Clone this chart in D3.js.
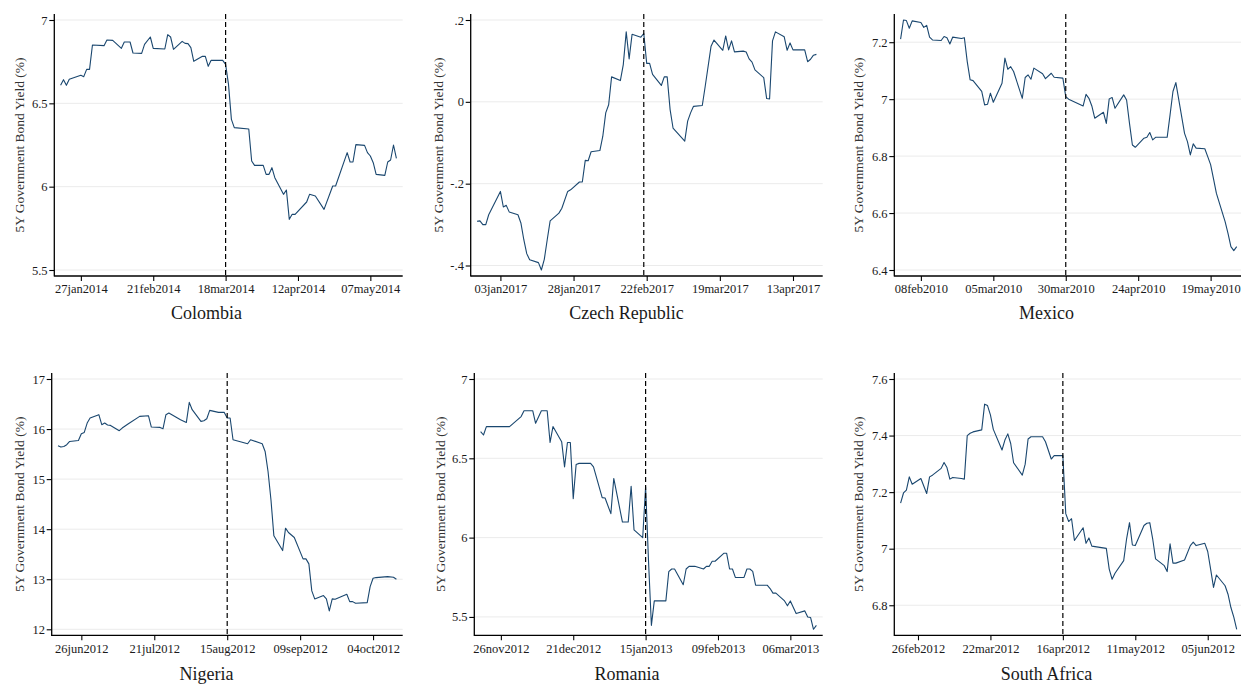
<!DOCTYPE html>
<html><head><meta charset="utf-8">
<script src="https://cdn.jsdelivr.net/npm/d3@7"></script>
<style>
body{margin:0;background:#fff}
svg{display:block}
svg text{font-family:"Liberation Serif","Times New Roman",serif !important;fill:#1a1a1a}
</style>
</head><body>
<svg id="chart" width="1241" height="685"></svg>
<script>
// ---------- DATA ----------
const yLabel = "5Y Government Bond Yield (%)";

const colombiaDates = ["2014-01-20","2014-01-21","2014-01-22","2014-01-23","2014-01-27","2014-01-28","2014-01-29","2014-01-30","2014-01-31","2014-02-04","2014-02-05","2014-02-07","2014-02-10","2014-02-11","2014-02-13","2014-02-14","2014-02-17","2014-02-18","2014-02-20","2014-02-21","2014-02-25","2014-02-26","2014-02-27","2014-02-28","2014-03-03","2014-03-04","2014-03-05","2014-03-06","2014-03-07","2014-03-10","2014-03-11","2014-03-12","2014-03-13","2014-03-17","2014-03-18","2014-03-19","2014-03-20","2014-03-21","2014-03-26","2014-03-27","2014-03-28","2014-03-31","2014-04-01","2014-04-02","2014-04-03","2014-04-04","2014-04-07","2014-04-08","2014-04-09","2014-04-10","2014-04-11","2014-04-15","2014-04-16","2014-04-18","2014-04-21","2014-04-24","2014-04-25","2014-04-29","2014-04-30","2014-05-01","2014-05-02","2014-05-05","2014-05-06","2014-05-07","2014-05-08","2014-05-09","2014-05-12","2014-05-13","2014-05-14","2014-05-15","2014-05-16"];
const colombiaValues = [6.608,6.642,6.608,6.644,6.668,6.66,6.704,6.704,6.85,6.846,6.88,6.878,6.83,6.868,6.868,6.802,6.80,6.854,6.898,6.83,6.826,6.912,6.898,6.824,6.872,6.86,6.858,6.834,6.752,6.782,6.782,6.722,6.758,6.758,6.734,6.614,6.404,6.354,6.346,6.154,6.128,6.128,6.074,6.074,6.114,6.054,5.954,5.98,5.804,5.834,5.834,5.908,5.954,5.944,5.864,6.004,6.004,6.204,6.148,6.148,6.252,6.248,6.204,6.184,6.144,6.074,6.068,6.148,6.16,6.25,6.17];

const czechDates = ["2016-12-26","2016-12-27","2016-12-28","2016-12-29","2016-12-30","2017-01-03","2017-01-04","2017-01-05","2017-01-06","2017-01-09","2017-01-10","2017-01-11","2017-01-12","2017-01-13","2017-01-16","2017-01-17","2017-01-18","2017-01-19","2017-01-20","2017-01-23","2017-01-24","2017-01-26","2017-01-27","2017-01-30","2017-01-31","2017-02-01","2017-02-02","2017-02-03","2017-02-06","2017-02-07","2017-02-08","2017-02-09","2017-02-10","2017-02-13","2017-02-14","2017-02-15","2017-02-16","2017-02-17","2017-02-20","2017-02-21","2017-02-22","2017-02-23","2017-02-24","2017-02-27","2017-02-28","2017-03-01","2017-03-02","2017-03-03","2017-03-07","2017-03-08","2017-03-09","2017-03-10","2017-03-13","2017-03-14","2017-03-16","2017-03-17","2017-03-20","2017-03-21","2017-03-22","2017-03-23","2017-03-24","2017-03-27","2017-03-28","2017-03-29","2017-03-30","2017-03-31","2017-04-03","2017-04-04","2017-04-05","2017-04-06","2017-04-07","2017-04-10","2017-04-11","2017-04-12","2017-04-13","2017-04-17","2017-04-18","2017-04-19","2017-04-20","2017-04-21"];
const czechValues = [-0.292,-0.291,-0.300,-0.300,-0.276,-0.219,-0.257,-0.253,-0.269,-0.276,-0.296,-0.337,-0.371,-0.386,-0.393,-0.411,-0.385,-0.337,-0.291,-0.272,-0.260,-0.219,-0.215,-0.196,-0.196,-0.143,-0.144,-0.122,-0.119,-0.084,-0.027,-0.007,0.061,0.052,0.091,0.171,0.105,0.165,0.158,0.167,0.094,0.094,0.067,0.040,0.061,0.061,-0.019,-0.064,-0.096,-0.047,-0.027,-0.011,-0.009,0.038,0.136,0.151,0.126,0.161,0.127,0.149,0.122,0.124,0.122,0.105,0.097,0.078,0.059,0.008,0.007,0.149,0.171,0.159,0.126,0.144,0.127,0.127,0.098,0.104,0.114,0.116];

const mexicoDates = ["2010-02-01","2010-02-02","2010-02-03","2010-02-04","2010-02-05","2010-02-08","2010-02-09","2010-02-10","2010-02-11","2010-02-12","2010-02-15","2010-02-16","2010-02-17","2010-02-18","2010-02-19","2010-02-22","2010-02-23","2010-02-24","2010-02-25","2010-02-26","2010-03-01","2010-03-02","2010-03-03","2010-03-04","2010-03-05","2010-03-08","2010-03-09","2010-03-10","2010-03-11","2010-03-12","2010-03-15","2010-03-16","2010-03-17","2010-03-18","2010-03-19","2010-03-22","2010-03-23","2010-03-25","2010-03-26","2010-03-29","2010-03-30","2010-03-31","2010-04-05","2010-04-06","2010-04-07","2010-04-08","2010-04-09","2010-04-12","2010-04-13","2010-04-14","2010-04-15","2010-04-16","2010-04-19","2010-04-20","2010-04-21","2010-04-22","2010-04-23","2010-04-26","2010-04-27","2010-04-28","2010-04-29","2010-04-30","2010-05-04","2010-05-05","2010-05-06","2010-05-07","2010-05-10","2010-05-11","2010-05-12","2010-05-13","2010-05-14","2010-05-17","2010-05-18","2010-05-19","2010-05-20","2010-05-21","2010-05-24","2010-05-25","2010-05-26","2010-05-27","2010-05-28"];
const mexicoValues = [7.211,7.278,7.276,7.249,7.275,7.269,7.252,7.259,7.218,7.208,7.206,7.220,7.216,7.194,7.218,7.213,7.216,7.132,7.068,7.065,7.027,6.980,6.982,7.021,6.989,7.056,7.144,7.105,7.114,7.097,7.003,7.076,7.085,7.070,7.109,7.089,7.072,7.091,7.077,7.074,7.009,7.000,6.976,7.017,7.003,6.976,6.933,6.954,6.915,7.001,7.006,6.968,7.015,6.997,6.915,6.839,6.831,6.863,6.866,6.883,6.857,6.866,6.866,6.945,7.027,7.058,6.880,6.851,6.804,6.843,6.828,6.826,6.798,6.770,6.720,6.669,6.570,6.529,6.482,6.468,6.482];

const nigeriaDates = ["2012-06-18","2012-06-19","2012-06-20","2012-06-21","2012-06-22","2012-06-25","2012-06-26","2012-06-27","2012-06-28","2012-06-29","2012-07-02","2012-07-03","2012-07-04","2012-07-05","2012-07-06","2012-07-09","2012-07-10","2012-07-12","2012-07-16","2012-07-19","2012-07-20","2012-07-23","2012-07-24","2012-07-25","2012-07-26","2012-07-30","2012-08-01","2012-08-02","2012-08-03","2012-08-06","2012-08-07","2012-08-08","2012-08-09","2012-08-12","2012-08-14","2012-08-15","2012-08-16","2012-08-17","2012-08-22","2012-08-23","2012-08-27","2012-08-28","2012-08-29","2012-08-30","2012-08-31","2012-09-03","2012-09-04","2012-09-05","2012-09-07","2012-09-10","2012-09-11","2012-09-12","2012-09-13","2012-09-14","2012-09-17","2012-09-18","2012-09-19","2012-09-20","2012-09-21","2012-09-25","2012-09-26","2012-09-27","2012-09-28","2012-10-02","2012-10-03","2012-10-04","2012-10-05","2012-10-09","2012-10-11","2012-10-12"];
const nigeriaValues = [15.667,15.640,15.653,15.687,15.753,15.773,15.907,15.933,16.120,16.220,16.287,16.087,16.120,16.080,16.073,15.967,16.020,16.100,16.253,16.267,16.040,16.033,16.007,16.287,16.320,16.187,16.133,16.533,16.387,16.153,16.167,16.207,16.373,16.333,16.333,16.220,16.220,15.787,15.707,15.787,15.707,15.553,15.153,14.587,13.867,13.573,14.020,13.933,13.833,13.407,13.407,13.307,12.767,12.607,12.673,12.607,12.367,12.607,12.600,12.700,12.553,12.553,12.520,12.533,12.853,13.020,13.033,13.053,13.040,13.000];

const romaniaDates = ["2012-11-19","2012-11-20","2012-11-21","2012-11-29","2012-12-03","2012-12-04","2012-12-07","2012-12-08","2012-12-10","2012-12-12","2012-12-13","2012-12-14","2012-12-17","2012-12-18","2012-12-19","2012-12-20","2012-12-21","2012-12-22","2012-12-23","2012-12-27","2012-12-28","2012-12-31","2013-01-01","2013-01-03","2013-01-04","2013-01-07","2013-01-09","2013-01-10","2013-01-11","2013-01-14","2013-01-15","2013-01-16","2013-01-17","2013-01-18","2013-01-22","2013-01-23","2013-01-24","2013-01-25","2013-01-28","2013-01-29","2013-01-30","2013-02-01","2013-02-04","2013-02-05","2013-02-06","2013-02-07","2013-02-08","2013-02-11","2013-02-12","2013-02-13","2013-02-14","2013-02-15","2013-02-18","2013-02-19","2013-02-20","2013-02-21","2013-02-22","2013-02-26","2013-02-27","2013-02-28","2013-03-01","2013-03-04","2013-03-05","2013-03-06","2013-03-08","2013-03-11","2013-03-12","2013-03-13","2013-03-14","2013-03-15"];
const romaniaValues = [6.668,6.647,6.700,6.700,6.763,6.800,6.800,6.721,6.800,6.800,6.600,6.700,6.605,6.446,6.600,6.600,6.246,6.461,6.468,6.468,6.446,6.252,6.250,6.151,6.373,6.098,6.098,6.324,6.049,6.000,6.320,5.855,5.447,5.601,5.601,5.785,5.802,5.802,5.703,5.802,5.819,5.819,5.802,5.819,5.819,5.851,5.851,5.901,5.901,5.802,5.802,5.749,5.749,5.802,5.802,5.787,5.700,5.700,5.679,5.650,5.650,5.601,5.570,5.601,5.521,5.538,5.500,5.496,5.422,5.447];

const southAfricaDates = ["2012-02-20","2012-02-21","2012-02-22","2012-02-23","2012-02-24","2012-02-27","2012-02-29","2012-03-01","2012-03-02","2012-03-05","2012-03-06","2012-03-07","2012-03-08","2012-03-09","2012-03-12","2012-03-13","2012-03-14","2012-03-15","2012-03-16","2012-03-19","2012-03-20","2012-03-21","2012-03-22","2012-03-23","2012-03-26","2012-03-27","2012-03-28","2012-03-29","2012-03-30","2012-04-02","2012-04-03","2012-04-04","2012-04-05","2012-04-09","2012-04-10","2012-04-12","2012-04-13","2012-04-16","2012-04-17","2012-04-18","2012-04-19","2012-04-20","2012-04-23","2012-04-24","2012-04-25","2012-04-26","2012-05-01","2012-05-02","2012-05-03","2012-05-04","2012-05-07","2012-05-08","2012-05-09","2012-05-10","2012-05-11","2012-05-14","2012-05-15","2012-05-16","2012-05-17","2012-05-18","2012-05-21","2012-05-22","2012-05-23","2012-05-24","2012-05-25","2012-05-28","2012-05-30","2012-05-31","2012-06-01","2012-06-04","2012-06-05","2012-06-06","2012-06-07","2012-06-08","2012-06-11","2012-06-12","2012-06-13","2012-06-14","2012-06-15"];
const southAfricaValues = [7.161,7.197,7.207,7.254,7.228,7.248,7.195,7.254,7.260,7.284,7.305,7.287,7.246,7.252,7.248,7.246,7.400,7.408,7.413,7.420,7.511,7.506,7.473,7.422,7.349,7.384,7.406,7.372,7.304,7.260,7.299,7.388,7.396,7.396,7.378,7.317,7.329,7.329,7.124,7.096,7.106,7.029,7.074,7.019,7.038,7.009,7.001,6.928,6.892,6.913,6.958,7.035,7.092,7.013,7.011,7.082,7.090,7.092,7.035,6.964,6.940,6.919,7.017,6.949,6.949,6.960,7.011,7.023,7.011,7.019,6.990,6.928,6.863,6.907,6.869,6.839,6.792,6.758,6.715];

const countries = ["Colombia","Czech Republic","Mexico","Nigeria","Romania","South Africa"];
const eventDates = ["2014-03-18","2017-02-21","2010-03-30","2012-08-15","2013-01-15","2012-04-16"];
const xTickDates = [
  ["2014-01-27","2014-02-21","2014-03-18","2014-04-12","2014-05-07"],
  ["2017-01-03","2017-01-28","2017-02-22","2017-03-19","2017-04-13"],
  ["2010-02-08","2010-03-05","2010-03-30","2010-04-24","2010-05-19"],
  ["2012-06-26","2012-07-21","2012-08-15","2012-09-09","2012-10-04"],
  ["2012-11-26","2012-12-21","2013-01-15","2013-02-09","2013-03-06"],
  ["2012-02-26","2012-03-22","2012-04-16","2012-05-11","2012-06-05"]
];
const yTickValues = [
  [5.5,6,6.5,7],
  [-0.4,-0.2,0,0.2],
  [6.4,6.6,6.8,7,7.2],
  [12,13,14,15,16,17],
  [5.5,6,6.5,7],
  [6.8,7,7.2,7.4,7.6]
];
const yTickLabels = [
  ["5.5","6","6.5","7"],
  ["-.4","-.2","0",".2"],
  ["6.4","6.6","6.8","7","7.2"],
  ["12","13","14","15","16","17"],
  ["5.5","6","6.5","7"],
  ["6.8","7","7.2","7.4","7.6"]
];
const seriesDates = [colombiaDates, czechDates, mexicoDates, nigeriaDates, romaniaDates, southAfricaDates];
const seriesValues = [colombiaValues, czechValues, mexicoValues, nigeriaValues, romaniaValues, southAfricaValues];

// ---------- LAYOUT ----------
const boxes = [
  {left:54.3, right:402.7, top:14, bottom:276, labX:19, titleX:206.5, titleY:319},
  {left:470.7, right:822.7, top:14, bottom:276, labX:438.3, titleX:626.5, titleY:319},
  {left:894.3, right:1243, top:14, bottom:276, labX:858.3, titleX:1046.5, titleY:319},
  {left:51.7, right:402.7, top:373, bottom:635.3, labX:19, titleX:206.5, titleY:680},
  {left:474.3, right:822.7, top:373, bottom:635.3, labX:440, titleX:627, titleY:680},
  {left:894.3, right:1243, top:373, bottom:635.3, labX:858.3, titleX:1046.5, titleY:680}
];
const PADX = 6.3, PADY = 6;
const LINE_COLOR = "#1a476f";
const FONT = '"Liberation Serif","Times New Roman",serif';

const parse = d3.utcParse("%Y-%m-%d");
const fmt = d => d3.utcFormat("%d%b%Y")(d).toLowerCase();
const svg = d3.select("#chart");

countries.forEach((name, i) => {
  const b = boxes[i];
  const data = seriesDates[i].map((d, k) => ({date: parse(d), v: seriesValues[i][k]}));
  const x = d3.scaleUtc().domain(d3.extent(data, d => d.date)).range([b.left + PADX, b.right - PADX]);
  const y = d3.scaleLinear()
    .domain(d3.extent(data.map(d => d.v).concat(yTickValues[i])))
    .range([b.bottom - PADY, b.top + PADY]);
  const g = svg.append("g");

  // gridlines
  g.selectAll("line.grid").data(yTickValues[i]).join("line")
    .attr("class","grid")
    .attr("x1", b.left).attr("x2", b.right)
    .attr("y1", d => y(d)).attr("y2", d => y(d))
    .attr("stroke", "#ebebeb").attr("stroke-width", 1);

  // series line
  g.append("path").datum(data)
    .attr("d", d3.line().x(d => x(d.date)).y(d => y(d.v)))
    .attr("fill","none").attr("stroke", LINE_COLOR)
    .attr("stroke-width", 1.1).attr("stroke-linejoin","round");

  // event line
  const ex = x(parse(eventDates[i]));
  g.append("line")
    .attr("x1", ex).attr("x2", ex).attr("y1", b.top).attr("y2", b.bottom)
    .attr("stroke","#000").attr("stroke-width",1.2).attr("stroke-dasharray","5,3");

  // y axis
  const ya = g.append("g").attr("transform", `translate(${b.left},0)`)
    .call(d3.axisLeft(y).tickValues(yTickValues[i]).tickFormat((d, k) => yTickLabels[i][k]).tickSize(5).tickPadding(1.8))
    .attr("font-family", FONT).attr("font-size", 12.5);
  ya.select(".domain").remove();
  ya.selectAll("line").attr("stroke","#000").attr("stroke-width",1.1);
  ya.selectAll("text").style("font-family", FONT).style("fill","#1a1a1a");

  // x axis
  const xa = g.append("g").attr("transform", `translate(0,${b.bottom})`)
    .call(d3.axisBottom(x).tickValues(xTickDates[i].map(parse)).tickFormat(fmt).tickSize(5).tickPadding(3.6))
    .attr("font-family", FONT).attr("font-size", 12.5);
  xa.select(".domain").remove();
  xa.selectAll("line").attr("stroke","#000").attr("stroke-width",1.1);
  xa.selectAll("text").style("font-family", FONT).style("fill","#1a1a1a");

  // axis lines
  g.append("line").attr("x1", b.left).attr("x2", b.left).attr("y1", b.top).attr("y2", b.bottom + 0.6)
    .attr("stroke","#000").attr("stroke-width",1.3);
  g.append("line").attr("x1", b.left).attr("x2", b.right).attr("y1", b.bottom).attr("y2", b.bottom)
    .attr("stroke","#000").attr("stroke-width",1.3);

  // y label
  const cy = (b.top + b.bottom) / 2;
  g.append("text")
    .attr("transform", `translate(${b.labX},${cy}) rotate(-90)`)
    .attr("text-anchor","middle").attr("dominant-baseline","central")
    .attr("font-size", 13.5).style("font-family", FONT).style("fill","#333")
    .text(yLabel);

  // title
  g.append("text")
    .attr("x", b.titleX).attr("y", b.titleY)
    .attr("text-anchor","middle").attr("font-size", 18)
    .style("font-family", FONT)
    .text(name);
});
</script>
</body></html>
